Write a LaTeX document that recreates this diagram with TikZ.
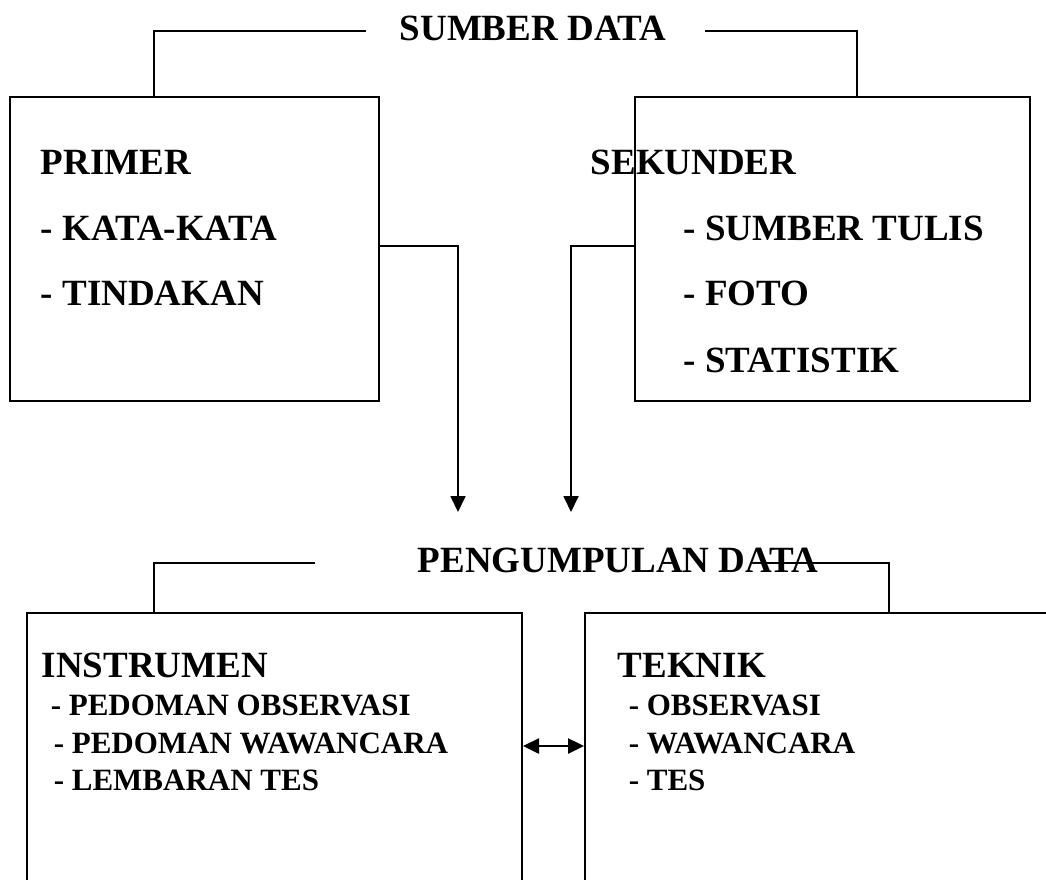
\documentclass[tikz,border=0pt]{standalone}
\usepackage{fontspec}
\setmainfont{Liberation Serif}
\usetikzlibrary{arrows.meta}
\begin{document}
\begin{tikzpicture}[x=1pt,y=-1pt,line width=1.5pt,
  >={Triangle[length=16pt,width=15pt]},
  kotak/.style={draw,line width=2pt,rectangle,inner sep=0pt},
  judul/.style={anchor=base west,inner sep=0pt,font=\fontsize{37}{40}\selectfont\bfseries},
  isi/.style={anchor=base west,inner sep=0pt,font=\fontsize{31}{34}\selectfont\bfseries}]
\useasboundingbox (0,0) rectangle (1046,879);
% sumber data
\node[kotak,minimum width=369pt,minimum height=304pt] (primer) at (194.5,249) {};
\node[kotak,minimum width=395pt,minimum height=304pt] (sekunder) at (832.5,249) {};
\node[judul] (sumber) at (399,40) {SUMBER DATA};
\node[judul] (tprimer) at (40,174) {PRIMER};
\node[judul] (kata) at (40,240) {- KATA-KATA};
\node[judul] (tindakan) at (40,305) {- TINDAKAN};
\node[judul] (tsekunder) at (590,174) {SEKUNDER};
\node[judul] (tulis) at (683,240) {- SUMBER TULIS};
\node[judul] (foto) at (683,305) {- FOTO};
\node[judul] (statistik) at (683,372) {- STATISTIK};
\coordinate (sk) at (366,31);
\coordinate (sn) at (705,31);
\draw (sk) -| ([xshift=145pt]primer.north west);
\draw (sn) -| ([xshift=223pt]sekunder.north west);
% panah ke pengumpulan data
\coordinate (ujungA) at (458,512);
\coordinate (ujungB) at (571,512);
\draw[->,line width=1.8pt] ([yshift=3pt]primer.east) -| (ujungA);
\draw[->,line width=1.8pt] ([yshift=3pt]sekunder.west) -| (ujungB);
% pengumpulan data
\node[kotak,minimum width=495pt,minimum height=307pt] (instrumen) at (274.5,766.5) {};
\node[kotak,minimum width=515pt,minimum height=307pt] (teknik) at (842.5,766.5) {};
\node[judul] (kumpul) at (417,572) {PENGUMPULAN DATA};
\node[judul] (tinstrumen) at (41,677) {INSTRUMEN};
\node[isi] (pobs) at (50,715) {- PEDOMAN OBSERVASI};
\node[isi] (pwaw) at (53,753) {- PEDOMAN WAWANCARA};
\node[isi] (lembar) at (53,790) {- LEMBARAN TES};
\node[judul] (tteknik) at (617,677) {TEKNIK};
\node[isi] (obs) at (628,715) {- OBSERVASI};
\node[isi] (waw) at (628,753) {- WAWANCARA};
\node[isi] (tes) at (628,790) {- TES};
\coordinate (pk) at (315,563);
\coordinate (pn) at (760,563);
\draw (pk) -| ([xshift=128pt]instrumen.north west);
\draw (pn) -| ([xshift=305pt]teknik.north west);
\draw[<->,line width=2.5pt] ([yshift=20.5pt]instrumen.east) -- ([yshift=20.5pt]teknik.west);
\end{tikzpicture}
\end{document}
